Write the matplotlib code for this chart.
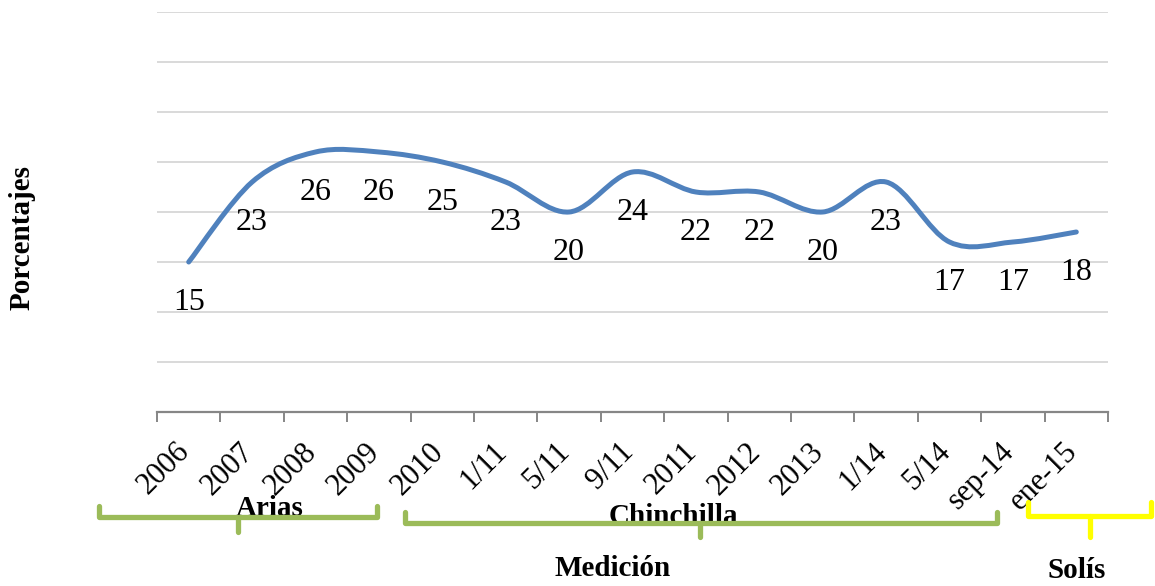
import numpy as np
import matplotlib
matplotlib.use("Agg")
import matplotlib.pyplot as plt
import matplotlib.transforms as mtransforms
from matplotlib.path import Path
from matplotlib.patches import PathPatch

# datos del grafico
categories = ["2006", "2007", "2008", "2009", "2010", "1/11", "5/11", "9/11",
              "2011", "2012", "2013", "1/14", "5/14", "sep-14", "ene-15"]
values = [15, 23, 26, 26, 25, 23, 20, 24, 22, 22, 20, 23, 17, 17, 18]
periods = ["Arias", "Chinchilla", "Solís"]

plt.rcParams['font.family'] = ['Liberation Serif', 'DejaVu Serif']

line_color = '#4f81bd'
green = '#9bbb59'
yellow = '#ffff00'

fig = plt.figure(figsize=(11.55, 5.86), dpi=100)
W, H = 1155, 586
ax = fig.add_axes([157 / W, 1 - 412 / H, (1108 - 157) / W, 400 / H])

x = np.arange(len(values))
y = np.array(values, dtype=float)

# linea suavizada (bezier tipo excel) a traves de los puntos
verts = [(x[0], y[0])]
codes = [Path.MOVETO]
n = len(x)
for i in range(n - 1):
    p0 = np.array([x[max(i - 1, 0)], y[max(i - 1, 0)]])
    p1 = np.array([x[i], y[i]])
    p2 = np.array([x[i + 1], y[i + 1]])
    p3 = np.array([x[min(i + 2, n - 1)], y[min(i + 2, n - 1)]])
    c1 = p1 + (p2 - p0) / 6.0
    c2 = p2 - (p3 - p1) / 6.0
    verts += [tuple(c1), tuple(c2), tuple(p2)]
    codes += [Path.CURVE4, Path.CURVE4, Path.CURVE4]
patch = PathPatch(Path(verts, codes), facecolor='none', edgecolor=line_color,
                  lw=3.6, capstyle='round', joinstyle='round', zorder=3)
ax.add_patch(patch)

for xi, yi in zip(x, values):
    ax.annotate(str(yi), (xi, yi), xytext=(0, -29), textcoords='offset points',
                ha='center', va='center', fontsize=23)

ax.set_xlim(-0.5, len(values) - 0.5)
ax.set_ylim(0, 40)
ax.set_yticks(np.arange(5, 41, 5))
ax.yaxis.grid(True, color='#d9d9d9', lw=1.4)
ax.set_axisbelow(True)
ax.tick_params(axis='y', length=0, labelleft=False)

ax.set_xticks(np.arange(-0.5, len(values), 1.0))
ax.set_xticklabels([])
ax.set_xticks(x, minor=True)
ax.set_xticklabels(categories, minor=True, rotation=45, ha='right', va='top',
                   fontsize=22)
ax.tick_params(axis='x', which='major', length=7, width=1.4, color='#868686')
ax.tick_params(axis='x', which='minor', length=0, pad=18)
shift = mtransforms.ScaledTranslation(7 / 100, 0, fig.dpi_scale_trans)
for lbl in ax.get_xticklabels(minor=True):
    lbl.set_transform(lbl.get_transform() + shift)

for s in ['top', 'right', 'left']:
    ax.spines[s].set_visible(False)
ax.spines['bottom'].set_color('#868686')
ax.spines['bottom'].set_linewidth(1.6)

fig.text(22 / W, 1 - 238 / H, "Porcentajes", rotation=90, ha='center',
         va='center', fontsize=21, fontweight='bold')

# llaves de los periodos
ov = fig.add_axes([0, 0, 1, 1], facecolor='none')
ov.set_xlim(0, W)
ov.set_ylim(H, 0)
ov.axis('off')


def bracket(x0, x1, ytop, ymid, xc, ybot, color):
    kw = dict(color=color, lw=3.8, solid_capstyle='round',
              solid_joinstyle='round', zorder=5)
    ov.plot([x0, x0, x1, x1], [ytop, ymid, ymid, ytop], **kw)
    ov.plot([xc, xc], [ymid, ybot], **kw)


ov.text(270, 508, periods[0], ha='center', va='center', fontsize=21,
        fontweight='bold', zorder=4)
ov.text(673, 516, periods[1], ha='center', va='center', fontsize=21,
        fontweight='bold', zorder=4)
bracket(99, 377, 506, 517, 238, 532, green)
bracket(405, 997, 512, 523, 700, 537, green)
bracket(1028, 1151, 502, 516, 1090, 537, yellow)
ov.text(613, 569, "Medición", ha='center', va='center', fontsize=21,
        fontweight='bold')
ov.text(1077, 571, periods[2], ha='center', va='center', fontsize=21,
        fontweight='bold')

fig.savefig("out.png", dpi=100)
